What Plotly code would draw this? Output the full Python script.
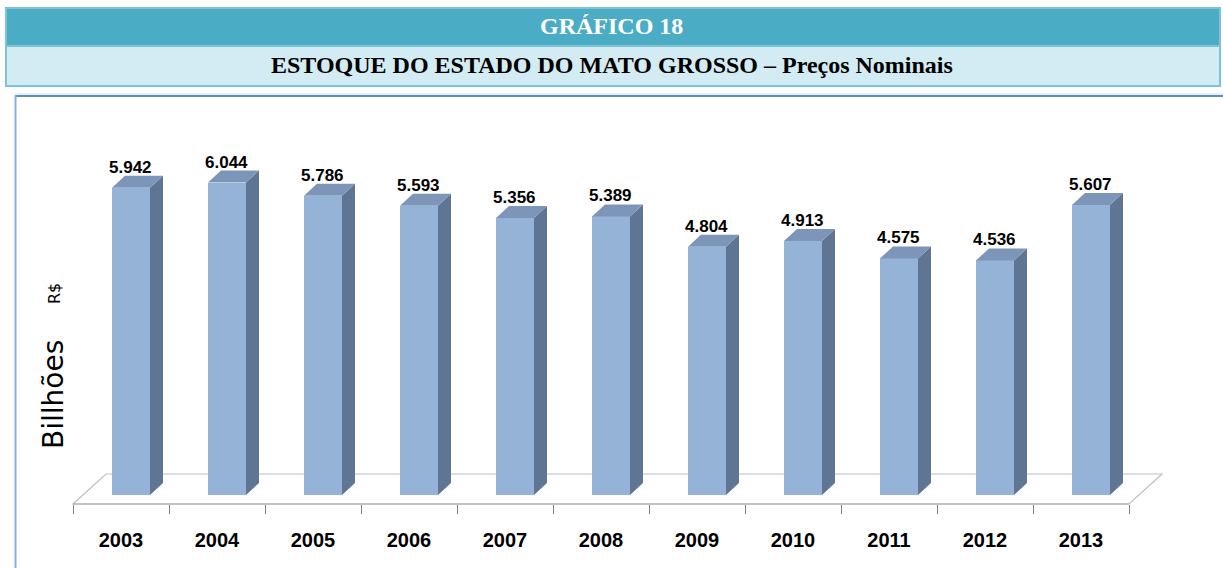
import plotly.graph_objects as go

# ---------------- data ----------------
years = ["2003", "2004", "2005", "2006", "2007", "2008", "2009", "2010", "2011", "2012", "2013"]
values = [5.942, 6.044, 5.786, 5.593, 5.356, 5.389, 4.804, 4.913, 4.575, 4.536, 5.607]
value_labels = [f"{v:.3f}" for v in values]

title_top = "GRÁFICO 18"
title_sub = "ESTOQUE DO ESTADO DO MATO GROSSO – Preços Nominais"
y_title_main = "Billhões"
y_title_unit = "R$"

# ---------------- geometry (pixels of the 1223x568 canvas) ----------------
W, H = 1223, 568
X0_PX, CAT_PX = 73, 96          # left end of category axis, width of a category
BASE_PX, PX_PER_UNIT = 495, 51.7  # bar base line, pixels per unit of value

x_range = [(0 - X0_PX) / CAT_PX, (W - X0_PX) / CAT_PX]
y_range = [(BASE_PX - H) / PX_PER_UNIT, BASE_PX / PX_PER_UNIT]

FACE_L, FACE_W = 0.406, 0.396      # front face offset/width within a category
DX = 13 / CAT_PX                   # depth offset (x)
DV = 12 / PX_PER_UNIT              # depth offset (value)

FLOOR_FRONT = (BASE_PX - 504) / PX_PER_UNIT
FLOOR_BACK = (BASE_PX - 474) / PX_PER_UNIT
FLOOR_DX = 33 / CAT_PX
N = len(years)


def py(p):  # pixel y -> paper
    return 1 - p / H


def px(p):  # pixel x -> paper
    return p / W


FRONT = "#95B3D7"
SIDE = "#5E7593"
TOP = "#7C95B8"

fig = go.Figure()

# front faces
fig.add_trace(go.Bar(
    x=[i + FACE_L + FACE_W / 2 for i in range(N)],
    y=values,
    width=FACE_W,
    marker=dict(color=FRONT, line=dict(width=0)),
    hovertext=years,
    showlegend=False,
))

# side faces
sx, sy = [], []
for i, v in enumerate(values):
    xr = i + FACE_L + FACE_W
    sx += [xr, xr + DX, xr + DX, xr, xr, None]
    sy += [0, DV, v + DV, v, 0, None]
fig.add_trace(go.Scatter(x=sx, y=sy, mode="lines", fill="toself", fillcolor=SIDE,
                         line=dict(width=0, color=SIDE), hoverinfo="skip", showlegend=False))

# top faces
tx, ty = [], []
for i, v in enumerate(values):
    xl = i + FACE_L
    xr = xl + FACE_W
    tx += [xl, xr, xr + DX, xl + DX, xl, None]
    ty += [v, v, v + DV, v + DV, v, None]
fig.add_trace(go.Scatter(x=tx, y=ty, mode="lines", fill="toself", fillcolor=TOP,
                         line=dict(width=0, color=TOP), hoverinfo="skip", showlegend=False))

# value labels
for i, (v, lab) in enumerate(zip(values, value_labels)):
    fig.add_annotation(x=i + FACE_L + FACE_W / 2, y=v, xref="x", yref="y",
                       text=lab, showarrow=False, xanchor="center", yanchor="bottom", yshift=9,
                       font=dict(family="Liberation Sans, Arial",
                                 size=17, color="black", weight="bold"))

# floor
fig.add_shape(type="path", xref="x", yref="y", layer="below",
              path=f"M 0,{FLOOR_FRONT} L {N},{FLOOR_FRONT} L {N + FLOOR_DX},{FLOOR_BACK} "
                   f"L {FLOOR_DX},{FLOOR_BACK} Z",
              line=dict(color="#BFBFBF", width=1.2), fillcolor="rgba(0,0,0,0)")
fig.add_shape(type="line", xref="x", yref="y", layer="below",
              x0=0, x1=N, y0=FLOOR_FRONT, y1=FLOOR_FRONT,
              line=dict(color="#A6A6A6", width=1.2))

# header boxes
fig.add_shape(type="rect", xref="paper", yref="paper", layer="below",
              x0=px(6), x1=px(1220), y0=py(86), y1=py(8),
              line=dict(color="#7CC4D5", width=2), fillcolor="#D3EBF2")
fig.add_shape(type="rect", xref="paper", yref="paper", layer="below",
              x0=px(7), x1=px(1219), y0=py(45), y1=py(9),
              line=dict(width=0), fillcolor="#4BACC6")
fig.add_shape(type="line", xref="paper", yref="paper", layer="below",
              x0=px(7), x1=px(1219), y0=py(46), y1=py(46),
              line=dict(color="#7CC4D5", width=2))

# chart frame
fig.add_shape(type="line", xref="paper", yref="paper", layer="below",
              x0=px(15), x1=px(1223), y0=py(94), y1=py(94),
              line=dict(color="#D9D9D9", width=1))
fig.add_shape(type="line", xref="paper", yref="paper", layer="below",
              x0=px(15), x1=px(1223), y0=py(96), y1=py(96),
              line=dict(color="#5B8BD0", width=2))
fig.add_shape(type="line", xref="paper", yref="paper", layer="below",
              x0=px(15.5), x1=px(15.5), y0=py(95), y1=py(H),
              line=dict(color="#8EAEDB", width=2))

# header texts
fig.add_annotation(x=0.5, y=py(26), xref="paper", yref="paper", text=title_top,
                   showarrow=False, xanchor="center", yanchor="middle",
                   font=dict(family="Liberation Serif, Times New Roman, serif",
                             size=24, color="white", weight="bold"))
fig.add_annotation(x=0.5, y=py(65), xref="paper", yref="paper", text=title_sub,
                   showarrow=False, xanchor="center", yanchor="middle",
                   font=dict(family="Liberation Serif, Times New Roman, serif",
                             size=24, color="black", weight="bold"))

# y title
fig.add_annotation(x=px(53), y=py(395), xref="paper", yref="paper", text=y_title_main,
                   textangle=-90, showarrow=False, xanchor="center", yanchor="middle",
                   font=dict(family="DejaVu Sans, Liberation Sans", size=28, color="black"))
fig.add_annotation(x=px(54), y=py(294), xref="paper", yref="paper", text=y_title_unit,
                   textangle=-90, showarrow=False, xanchor="center", yanchor="middle",
                   font=dict(family="DejaVu Sans, Liberation Sans", size=16, color="black"))

fig.update_layout(
    width=W, height=H,
    margin=dict(l=0, r=0, t=0, b=0, pad=0),
    paper_bgcolor="white", plot_bgcolor="white",
    bargap=0,
    xaxis=dict(range=x_range, anchor="free", position=py(504),
               tickmode="array", tickvals=[i + 0.5 for i in range(N)], ticktext=years,
               ticks="", showline=False, showgrid=False, zeroline=False,
               ticklabelstandoff=22,
               tickfont=dict(family="Liberation Sans, Arial", size=20, color="black", weight="bold"),
               minor=dict(tickmode="array", tickvals=list(range(N + 1)), ticks="outside",
                          ticklen=9, tickcolor="#808080", tickwidth=1, showgrid=False),
               fixedrange=True),
    yaxis=dict(range=y_range, visible=False, fixedrange=True),
)

fig.write_html("out.html", config={"displayModeBar": False},
               post_script="document.body.style.margin='0';document.body.style.overflow='hidden';")
